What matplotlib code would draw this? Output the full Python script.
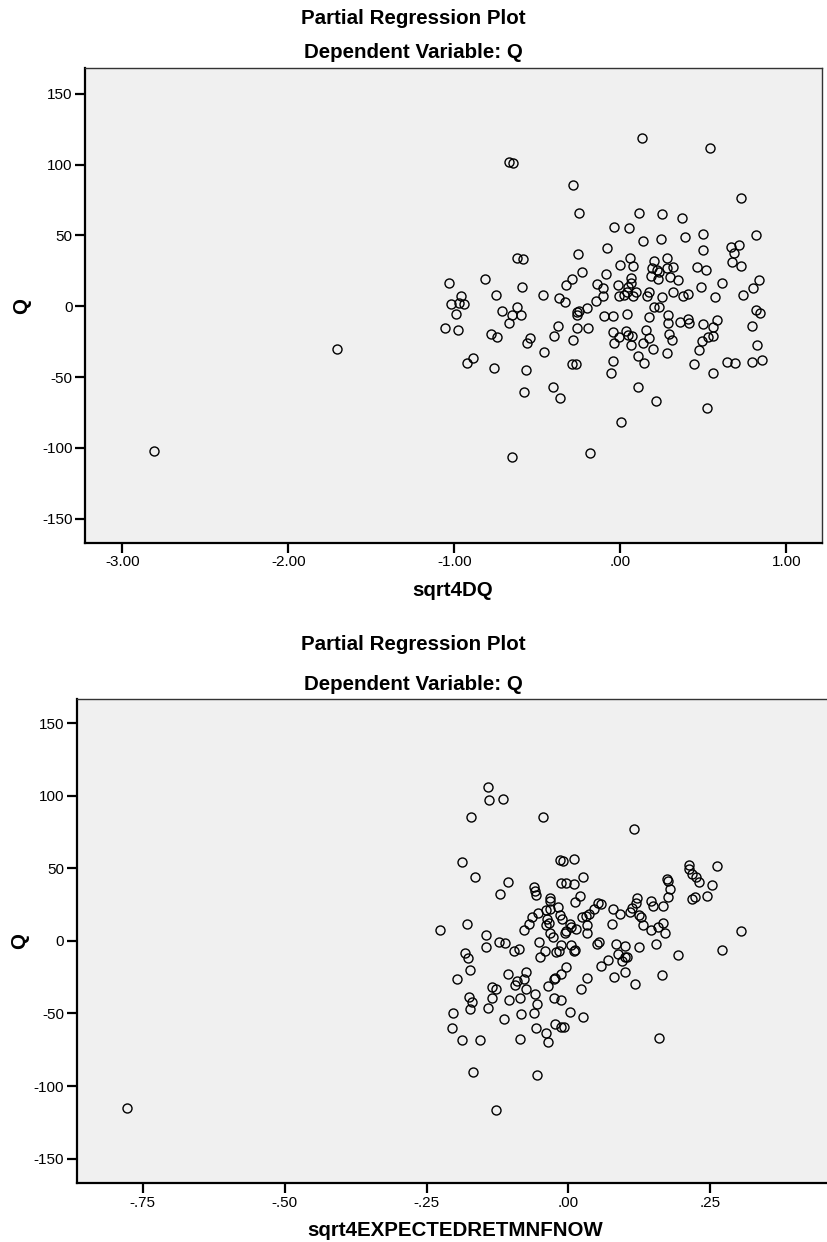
import matplotlib
matplotlib.use("Agg")
import matplotlib.pyplot as plt

plt.rcParams['font.family'] = ['Liberation Sans', 'DejaVu Sans']

# partial regression: residuals of sqrt4DQ vs residuals of Q
dq_x = [0.130, 0.538, -0.671, -0.645, -0.287, 0.727, -0.249, 0.112, 0.249, 0.369,
        -0.038, 0.050, 0.500, 0.817, 0.134, 0.247, 0.391, -0.080, 0.500, 0.669,
        0.715, 0.687, -0.253, 0.673, 0.727, -0.621, -0.589, 0.058, 0.283, 0.000,
        0.078, 0.203, 0.189, 0.223, 0.279, 0.319, 0.233, 0.462, 0.514, -0.229,
        -0.087, 0.185, 0.229, 0.297, 0.349, 0.066, 0.062, -0.817, -1.030, -0.593,
        -0.293, -0.330, -0.139, -0.105, -0.012, 0.048, 0.038, -0.010, 0.022, 0.094,
        0.078, 0.175, 0.158, 0.249, 0.315, 0.375, 0.409, 0.486, 0.614, 0.570,
        0.737, 0.797, 0.837, -0.747, -0.958, -0.464, -0.368, -0.105,
        -1.022, -0.970, -0.944, -0.992, -1.056, -0.978, -0.715, -0.655, -0.625, -0.599,
        -0.671, -0.779, -0.745, -0.886, -0.922, -0.763, -0.568, -0.542, -0.560, -0.458,
        -0.578, -0.651, -0.378, -0.398, -0.287, -0.408, -0.364, -0.293, -0.267, -0.263,
        -0.193, -0.263, -0.263, -0.251, -0.203, -0.334, -0.149, -0.101, -0.046, 0.040,
        -0.046, -0.040, -0.010, 0.032, 0.046, 0.068, 0.066, -0.046, -0.054, 0.104,
        0.144, 0.134, 0.171, 0.154, 0.199, 0.175, 0.205, 0.233, 0.289, 0.289,
        0.293, 0.311, 0.281, 0.104, 0.006, -0.185, 0.217, 0.361, 0.405, 0.413,
        0.498, 0.560, 0.582, 0.526, 0.560, 0.490, 0.472, 0.446, 0.556, 0.520,
        0.640, 0.693, 0.793, 0.853, 0.821, 0.793, 0.817, 0.841,
        -2.81, -1.709]
dq_q = [118.5, 111.7, 101.8, 101.1, 85.4, 76.5, 65.7, 65.9, 65.2, 62.4,
        56.3, 54.9, 51.1, 50.4, 46.4, 47.3, 49.2, 41.0, 39.8, 41.5,
        43.3, 37.5, 37.0, 31.4, 28.6, 34.2, 33.7, 34.4, 34.4, 29.2,
        28.6, 31.6, 26.7, 25.7, 26.9, 27.4, 24.3, 27.8, 25.5, 24.5,
        22.7, 21.3, 19.1, 20.8, 18.2, 19.6, 16.1, 19.4, 16.3, 13.7,
        19.2, 14.7, 15.6, 12.8, 14.9, 13.3, 9.8, 7.4, 7.9, 9.8,
        6.9, 10.2, 7.4, 6.2, 9.8, 7.4, 8.3, 13.3, 16.1, 6.2,
        7.9, 12.8, 18.4, 7.9, 7.4, 8.1, 5.8, 6.9,
        1.5, 2.3, 1.5, -5.3, -15.6, -17.0, -3.6, -6.0, -0.3, -6.0,
        -12.1, -19.6, -21.9, -36.5, -40.3, -43.8, -44.7, -22.6, -26.2, -32.5,
        -60.5, -106.5, -14.0, -21.2, -23.8, -57.2, -64.5, -40.5, -40.5, -15.6,
        -15.6, -6.2, -3.9, -3.2, -1.3, 3.2, 3.9, -6.7, -6.7, -5.7,
        -17.9, -26.2, -21.5, -17.2, -20.1, -21.0, -27.6, -38.6, -47.1, -35.3,
        -40.0, -26.2, -22.6, -16.8, -29.9, -7.4, -0.8, -0.3, -6.2, -12.1,
        -19.8, -24.1, -33.0, -57.2, -81.4, -103.7, -66.6, -11.4, -9.0, -11.8,
        -12.8, -14.9, -9.7, -21.5, -21.0, -24.5, -30.6, -40.7, -47.1, -72.0,
        -39.3, -40.0, -39.6, -37.9, -27.3, -13.7, -2.9, -5.0,
        -102.5, -29.9]

# residuals of sqrt4EXPECTEDRETMNFNOW vs residuals of Q
ret_x = [-0.142, -0.140, -0.116, -0.171, -0.045, 0.115, -0.187, -0.164, -0.106, -0.120,
         -0.015, -0.010, 0.009, 0.026, -0.013, -0.004, 0.010, -0.061, -0.059, -0.058,
         -0.033, -0.033, 0.021, 0.011, -0.018, -0.040, -0.033, -0.054, -0.064, -0.069,
         -0.079, -0.015, -0.012, -0.037, -0.035, -0.039, 0.003, 0.005, -0.004, -0.007,
         0.014, -0.033, -0.027, 0.024, 0.030, 0.036, 0.033, 0.033, 0.045, 0.052,
         0.058, 0.078, 0.077, 0.090, 0.108, 0.112, 0.118, 0.120, 0.125, 0.128,
         0.132, 0.145, 0.158, 0.166, 0.170, 0.145, 0.149, 0.166, 0.173, 0.175,
         0.178, 0.176, 0.212, 0.213, 0.218, 0.224, 0.230, 0.261, 0.252, 0.243,
         0.222, 0.218, 0.304, -0.226, -0.179, -0.145,
         -0.146, -0.123, -0.112, -0.096, -0.088, -0.052, -0.014, 0.005, 0.011, 0.009,
         0.051, 0.053, 0.084, 0.100, 0.124, 0.154, 0.270, -0.183, -0.177, -0.196,
         -0.173, -0.204, -0.205, -0.188, -0.155, -0.168, -0.127, -0.056, -0.176, -0.170,
         -0.173, -0.141, -0.134, -0.134, -0.127, -0.107, -0.113, -0.104, -0.086, -0.084,
         -0.086, -0.095, -0.090, -0.079, -0.075, -0.075, -0.059, -0.055, -0.060, -0.058,
         -0.040, -0.036, -0.024, -0.014, -0.008, -0.025, -0.014, 0.003, 0.026, 0.022,
         0.032, -0.036, -0.026, -0.023, -0.014, -0.005, -0.051, -0.042, -0.022, -0.017,
         0.058, 0.069, 0.080, 0.100, 0.117, 0.087, 0.094, 0.100, 0.103, 0.159,
         0.165, 0.192,
         -0.777]
ret_q = [105.7, 97.2, 98.1, 85.7, 85.5, 77.0, 54.7, 43.9, 40.4, 32.1,
         55.4, 55.1, 56.3, 43.9, 40.2, 39.7, 39.3, 36.8, 34.5, 31.7,
         29.4, 27.6, 31.2, 27.1, 23.2, 21.3, 21.8, 19.0, 16.3, 11.7,
         7.3, 17.9, 15.1, 15.1, 12.6, 10.8, 11.7, 9.8, 7.1, 5.3,
         8.2, 5.3, 3.0, 16.3, 17.4, 18.4, 11.0, 5.3, 21.8, 26.4,
         25.3, 22.3, 11.7, 18.6, 19.7, 23.0, 25.9, 29.4, 17.9, 16.3,
         11.0, 7.5, 9.8, 12.1, 5.3, 27.3, 24.3, 24.3, 42.9, 41.3,
         35.8, 30.5, 52.6, 49.8, 46.2, 43.9, 40.4, 51.5, 38.6, 31.0,
         30.5, 28.7, 6.6, 7.3, 11.9, 4.1,
         -3.9, -0.5, -1.4, -6.9, -5.5, -1.1, -2.5, -2.5, -6.2, -7.1,
         -2.1, -0.5, -2.3, -3.7, -3.9, -2.3, -6.0, -8.5, -11.5, -26.0,
         -20.2, -49.4, -60.2, -68.5, -68.5, -90.6, -116.6, -92.2, -38.4, -42.1,
         -46.7, -46.4, -39.5, -31.7, -33.1, -22.5, -53.8, -40.5, -39.5, -50.3,
         -67.8, -30.3, -27.8, -26.4, -21.4, -33.3, -36.8, -43.2, -49.7, -60.2,
         -63.7, -69.9, -57.2, -59.3, -59.1, -39.5, -40.9, -49.0, -52.2, -32.9,
         -25.8, -31.0, -26.4, -25.8, -22.5, -17.9, -11.3, -6.9, -8.0, -6.9,
         -17.0, -13.1, -24.8, -21.6, -29.9, -8.7, -13.6, -11.3, -10.8, -66.7,
         -23.4, -9.7,
         -115.3]

q_ticks = [-150, -100, -50, 0, 50, 100, 150]
dq_ticks = [-3, -2, -1, 0, 1]
dq_labels = ['-3.00', '-2.00', '-1.00', '.00', '1.00']
ret_ticks = [-0.75, -0.5, -0.25, 0, 0.25]
ret_labels = ['-.75', '-.50', '-.25', '.00', '.25']


def style_axes(ax):
    ax.set_facecolor('#f0f0f0')
    for s in ['left', 'bottom']:
        ax.spines[s].set_linewidth(1.6)
        ax.spines[s].set_color('black')
    for s in ['top', 'right']:
        ax.spines[s].set_linewidth(1.0)
        ax.spines[s].set_color('#333333')
    ax.tick_params(direction='out', length=7, width=1.6, labelsize=11, pad=2,
                   top=False, right=False)
    ax.set_yticks(q_ticks)
    ax.set_yticklabels([str(t) for t in q_ticks])


fig = plt.figure(figsize=(8.27, 12.42), dpi=100)

ax1 = fig.add_axes([0.1028, 0.5630, 0.8914, 0.3820])
ax1.plot(dq_x, dq_q, 'o', mfc='none', mec='black', ms=6.5, mew=1.0)
ax1.set_xlim(-3.225, 1.216)
ax1.set_ylim(-167, 168)
ax1.set_xticks(dq_ticks)
ax1.set_xticklabels(dq_labels)
style_axes(ax1)

ax2 = fig.add_axes([0.0927, 0.0473, 0.9120, 0.3897])
ax2.plot(ret_x, ret_q, 'o', mfc='none', mec='black', ms=6.5, mew=1.0)
ax2.set_xlim(-0.866, 0.462)
ax2.set_ylim(-167, 166.5)
ax2.set_xticks(ret_ticks)
ax2.set_xticklabels(ret_labels)
style_axes(ax2)

tkw = dict(ha='center', va='center', fontsize=14.8, fontweight='bold')
fig.text(0.4994, 1 - 18 / 1242, 'Partial Regression Plot', **tkw)
fig.text(0.4994, 1 - 53 / 1242, 'Dependent Variable: Q', **tkw)
fig.text(0.4994, 1 - 645 / 1242, 'Partial Regression Plot', **tkw)
fig.text(0.4994, 1 - 685 / 1242, 'Dependent Variable: Q', **tkw)

fig.text(453 / 827, 1 - 590 / 1242, 'sqrt4DQ', **tkw)
fig.text(455 / 827, 1 - 1230 / 1242, 'sqrt4EXPECTEDRETMNFNOW', **tkw)
fig.text(22 / 827, 1 - 306 / 1242, 'Q', rotation=90, **tkw)
fig.text(20 / 827, 1 - 941 / 1242, 'Q', rotation=90, **tkw)

fig.savefig('out.png', dpi=100, facecolor='white')
